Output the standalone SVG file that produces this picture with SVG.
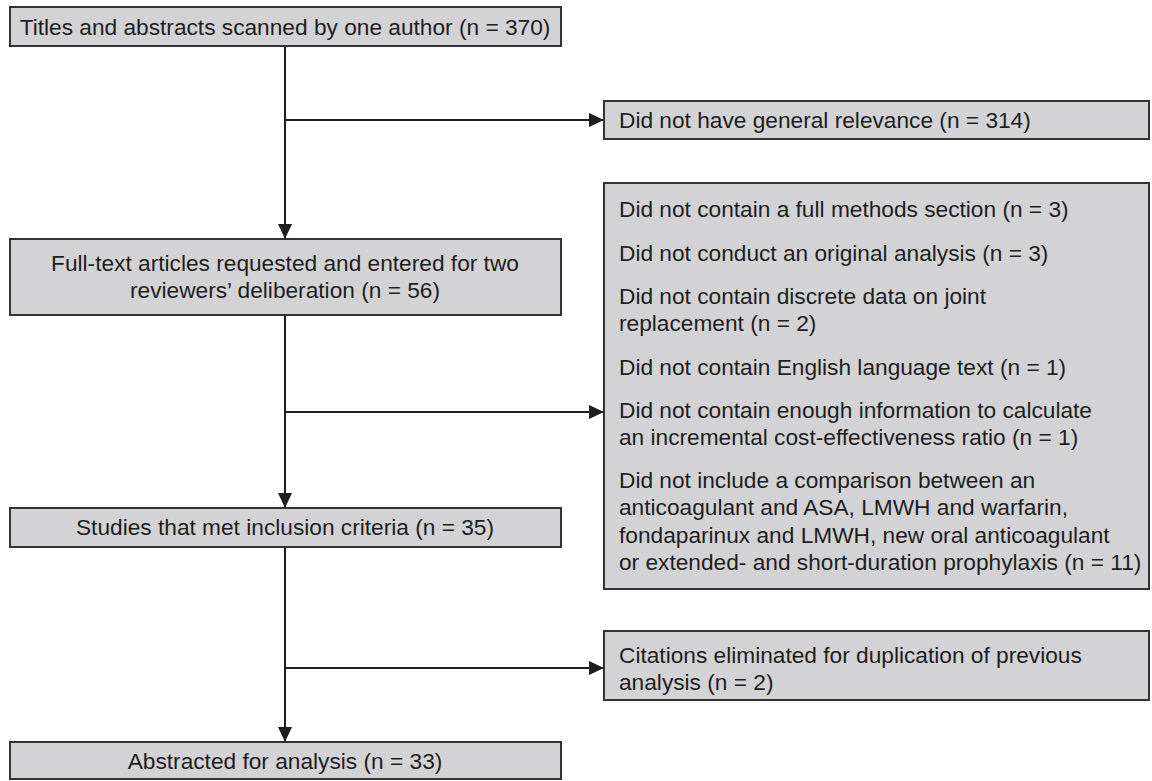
<svg xmlns="http://www.w3.org/2000/svg" width="1152" height="781" viewBox="0 0 1152 781">
<style>
.box{fill:#d3d3d5;stroke:#333;stroke-width:2}
.t{font-family:"Liberation Sans",Arial,sans-serif;font-size:22.7px;fill:#1e1e1e}
.c{text-anchor:middle}
.ln{stroke:#1e1e1e;stroke-width:2;fill:none}
</style>
<defs>
<marker id="ah" markerUnits="userSpaceOnUse" markerWidth="16" markerHeight="14" refX="15" refY="7" orient="auto">
<path d="M0,0 L15,7 L0,14 Z" fill="#1e1e1e"/>
</marker>
</defs>
<rect width="1152" height="781" fill="#fff"/>
<g id="connectors">
<line class="ln" x1="285" y1="46" x2="285" y2="239" marker-end="url(#ah)"/>
<line class="ln" x1="285" y1="315" x2="285" y2="508" marker-end="url(#ah)"/>
<line class="ln" x1="285" y1="547" x2="285" y2="742" marker-end="url(#ah)"/>
<line class="ln" x1="285" y1="120" x2="604" y2="120" marker-end="url(#ah)"/>
<line class="ln" x1="285" y1="412" x2="604" y2="412" marker-end="url(#ah)"/>
<line class="ln" x1="285" y1="668" x2="604" y2="668" marker-end="url(#ah)"/>
</g>
<g id="n1">
<rect class="box" x="10" y="7" width="551" height="39"/>
<text class="t c" x="285" y="35">Titles and abstracts scanned by one author (n = 370)</text>
</g>
<g id="n2">
<rect class="box" x="604" y="101" width="545" height="38"/>
<text class="t" x="619" y="128">Did not have general relevance (n = 314)</text>
</g>
<g id="n3">
<rect class="box" x="10" y="239" width="551" height="76"/>
<text class="t c" x="285" y="271">Full-text articles requested and entered for two</text>
<text class="t c" x="285" y="298">reviewers’ deliberation (n = 56)</text>
</g>
<g id="n4">
<rect class="box" x="604" y="183" width="545" height="406"/>
<text class="t" x="619" y="217">Did not contain a full methods section (n = 3)</text>
<text class="t" x="619" y="261">Did not conduct an original analysis (n = 3)</text>
<text class="t" x="619" y="304">Did not contain discrete data on joint</text>
<text class="t" x="619" y="331">replacement (n = 2)</text>
<text class="t" x="619" y="375">Did not contain English language text (n = 1)</text>
<text class="t" x="619" y="418">Did not contain enough information to calculate</text>
<text class="t" x="619" y="445">an incremental cost-effectiveness ratio (n = 1)</text>
<text class="t" x="619" y="488">Did not include a comparison between an</text>
<text class="t" x="619" y="515">anticoagulant and ASA, LMWH and warfarin,</text>
<text class="t" x="619" y="543">fondaparinux and LMWH, new oral anticoagulant</text>
<text class="t" x="619" y="570">or extended- and short-duration prophylaxis (n = 11)</text>
</g>
<g id="n5">
<rect class="box" x="10" y="508" width="551" height="39"/>
<text class="t c" x="285" y="535">Studies that met inclusion criteria (n = 35)</text>
</g>
<g id="n6">
<rect class="box" x="604" y="631" width="545" height="69"/>
<text class="t" x="619" y="663">Citations eliminated for duplication of previous</text>
<text class="t" x="619" y="690">analysis (n = 2)</text>
</g>
<g id="n7">
<rect class="box" x="10" y="742" width="551" height="37"/>
<text class="t c" x="285" y="769">Abstracted for analysis (n = 33)</text>
</g>
</svg>
